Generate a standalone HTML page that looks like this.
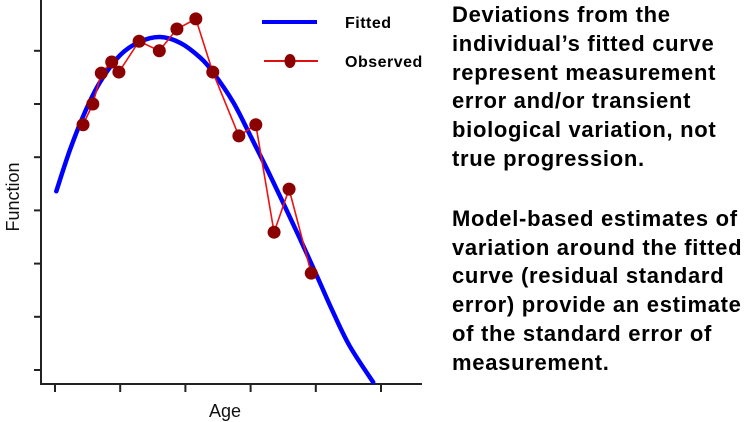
<!DOCTYPE html>
<html><head><meta charset="utf-8">
<style>
body{margin:0;width:750px;height:422px;background:#fff;overflow:hidden;position:relative;font-family:"Liberation Sans",Arial,sans-serif}
#txt{position:absolute;left:452px;top:1px;width:298px;font-weight:bold;font-size:22px;letter-spacing:0.7px;line-height:28.8px;color:#000;white-space:nowrap}
#txt p{margin:0}
#txt p+p{margin-top:31px}
</style></head><body>
<svg id="chart" width="440" height="422" style="position:absolute;left:0;top:0">
<g id="axes"></g>
<path id="fit" fill="none" stroke="#0000ff" stroke-width="4.5" stroke-linecap="round"/>
<path id="obs" fill="none" stroke="#ee1111" stroke-width="1.6"/>
<g id="pts"></g>
<g>
<line x1="262" y1="22" x2="317" y2="22" stroke="#0000ff" stroke-width="4"/>
<text x="345" y="28" font-size="16" font-weight="bold" letter-spacing="0.5">Fitted</text>
<line x1="264" y1="61" x2="318" y2="61" stroke="#dd1111" stroke-width="2"/>
<ellipse cx="290" cy="61" rx="5.5" ry="7" fill="#8b0000"/>
<text x="345" y="67" font-size="16" font-weight="bold" letter-spacing="0.5">Observed</text>
</g>
<text transform="translate(19,197) rotate(-90)" text-anchor="middle" font-size="18" fill="#111">Function</text>
<text x="225" y="417" text-anchor="middle" font-size="18" fill="#111">Age</text>
</svg>
<div id="txt">
<p>Deviations from the<br>individual’s fitted curve<br>represent measurement<br>error and/or transient<br>biological variation, not<br>true progression.</p>
<p>Model-based estimates of<br>variation around the fitted<br>curve (residual standard<br>error) provide an estimate<br>of the standard error of<br>measurement.</p>
</div>
<script>
const xTicks=[0,1,2,3,4,5];
const yTicks=[0,1,2,3,4,5,6];
const obsX=[0.43,0.58,0.71,0.87,0.98,1.29,1.60,1.87,2.16,2.42,2.82,3.08,3.36,3.59,3.93];
const obsY=[4.61,5.00,5.58,5.79,5.60,6.18,6.00,6.41,6.60,5.60,4.40,4.61,2.59,3.40,1.82];
const fitX=[0.02,0.23,0.46,0.69,1.0,1.30,1.61,1.92,2.22,2.42,2.73,2.99,3.25,3.50,3.76,4.02,4.26,4.52,4.88];
const fitY=[3.36,4.14,4.85,5.41,5.92,6.17,6.26,6.15,5.88,5.60,5.04,4.42,3.78,3.14,2.46,1.76,1.10,0.45,-0.23];
const sx=v=>55+v*65.2, sy=v=>370-v*53.2;
const NS='http://www.w3.org/2000/svg';
const ax=document.getElementById('axes');
function mk(t,a,p){const e=document.createElementNS(NS,t);for(const k in a)e.setAttribute(k,a[k]);p.appendChild(e);return e;}
let e=mk('line',{x1:41,y1:0,x2:41,y2:384,stroke:'#222','stroke-width':2},ax);


e=mk('line',{x1:40,y1:384,x2:422,y2:384,stroke:'#222','stroke-width':2},ax);


yTicks.forEach(v=>{const t=mk('line',{x1:34,x2:41,y1:sy(v),y2:sy(v),stroke:'#222','stroke-width':2},ax);

});
xTicks.forEach(v=>{const t=mk('line',{x1:sx(v),x2:sx(v),y1:384,y2:392,stroke:'#222','stroke-width':2},ax);

});
const fp=fitX.map((x,i)=>[sx(x),sy(fitY[i])]);
let d='M'+fp[0];
for(let i=0;i<fp.length-1;i++){const p0=fp[i-1]||fp[i],p1=fp[i],p2=fp[i+1],p3=fp[i+2]||p2;
d+=' C'+(p1[0]+(p2[0]-p0[0])/6)+','+(p1[1]+(p2[1]-p0[1])/6)+' '+(p2[0]-(p3[0]-p1[0])/6)+','+(p2[1]-(p3[1]-p1[1])/6)+' '+p2;}
document.getElementById('fit').setAttribute('d',d);
document.getElementById('obs').setAttribute('d','M'+obsX.map((x,i)=>sx(x)+','+sy(obsY[i])).join(' L'));
const pg=document.getElementById('pts');
obsX.forEach((x,i)=>{const c=mk('circle',{cx:sx(x),cy:sy(obsY[i]),r:6.5,fill:'#8b0000'},pg);

});
</script>
</body></html>
